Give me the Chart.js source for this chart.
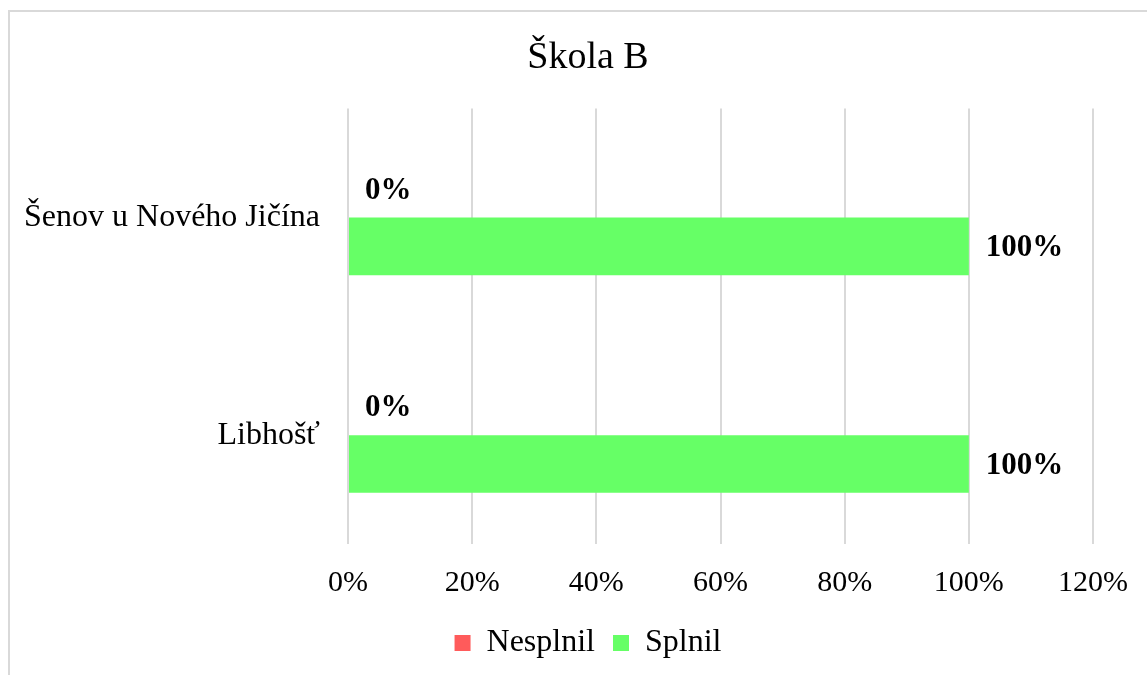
<!DOCTYPE html>
<html>
<head>
<meta charset="utf-8">
<script src="https://cdn.jsdelivr.net/npm/chart.js@4"></script>
<style>
  html, body { margin: 0; padding: 0; background: #fff; overflow: hidden; }
  #frame {
    position: absolute; left: 8px; top: 10px;
    width: 1156px; height: 720px;
    border: 2px solid #d9d9d9; background: #fff;
  }
  #frame canvas { display: block; }
</style>
</head>
<body>
<div id="frame"><canvas id="skolaB" width="1156" height="663"></canvas></div>
<script>
// data
const categories = ['Šenov u Nového Jičína', 'Libhošť'];
const nesplnil = [0, 0];
const splnil = [100, 100];
const tickLabels = ['0%', '20%', '40%', '60%', '80%', '100%', '120%'];

const serif = '"Liberation Serif", "Times New Roman", serif';

// draw value labels to the right of the bars
const valueLabels = {
    id: 'valueLabels',
    afterDatasetsDraw(chart) {
        const ctx = chart.ctx;
        ctx.save();
        ctx.font = 'bold 31px ' + serif;
        ctx.fillStyle = '#000';
        ctx.textAlign = 'left';
        ctx.textBaseline = 'middle';
        chart.data.datasets.forEach((ds, i) => {
            chart.getDatasetMeta(i).data.forEach((bar, j) => {
                ctx.fillText(ds.data[j] + '%', bar.x + 17, bar.y + 2);
            });
        });
        ctx.restore();
    }
};

let ctx = document.getElementById('skolaB').getContext('2d');
let chart = new Chart(ctx, {
    type: 'bar',
    data: {
        labels: categories,
        datasets: [
            {
                label: 'Nesplnil',
                data: nesplnil,
                backgroundColor: '#ff5b5b'
            },
            {
                label: 'Splnil',
                data: splnil,
                backgroundColor: '#66ff66'
            }
        ]
    },
    options: {
        indexAxis: 'y',
        responsive: false,
        animation: false,
        events: [],
        categoryPercentage: 0.53,
        barPercentage: 1.0,
        layout: {
            padding: { left: 0, right: 0, top: 0, bottom: 6 }
        },
        scales: {
            x: {
                min: 0,
                max: 120,
                ticks: {
                    stepSize: 20,
                    padding: 21,
                    color: '#000',
                    font: { family: serif, size: 30 },
                    callback: (v, i) => tickLabels[i]
                },
                grid: { color: '#d9d9d9', lineWidth: 2, drawTicks: false },
                border: { display: false },
                afterFit: (scale) => { scale.height = 65; }
            },
            y: {
                ticks: {
                    padding: 28,
                    color: '#000',
                    font: { family: serif, size: 32 }
                },
                grid: { display: false, drawTicks: false },
                border: { display: false },
                afterFit: (scale) => { scale.width = 338; }
            },
            // empty spacer on the right so title and legend stay centred on the whole chart
            spacer: {
                axis: 'y',
                type: 'category',
                position: 'right',
                ticks: { display: false },
                grid: { display: false, drawTicks: false },
                border: { display: false },
                afterFit: (scale) => { scale.width = 73; }
            }
        },
        plugins: {
            title: {
                display: true,
                text: 'Škola B',
                color: '#000',
                font: { family: serif, size: 38, weight: 'normal' },
                padding: { top: 23, bottom: 28 }
            },
            legend: {
                position: 'bottom',
                labels: {
                    color: '#000',
                    boxWidth: 16,
                    boxHeight: 16,
                    padding: 18,
                    font: { family: serif, size: 32 }
                }
            },
            tooltip: { enabled: false }
        }
    },
    plugins: [valueLabels]
});
</script>
</body>
</html>
